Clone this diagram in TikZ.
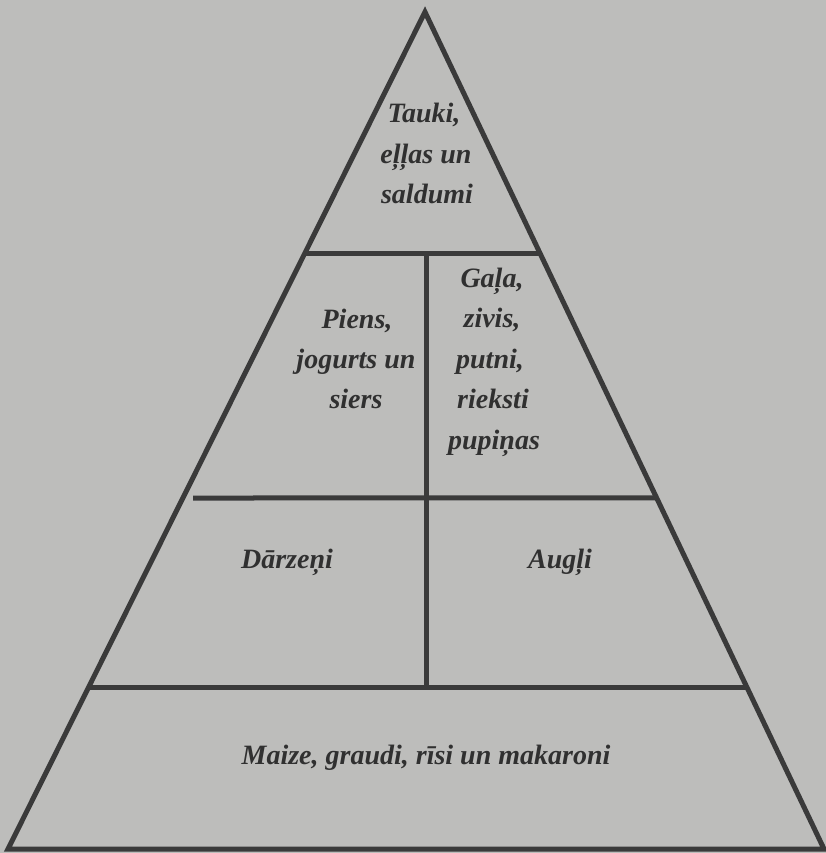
\documentclass[tikz,border=0pt]{standalone}
\usepackage{fontspec}
\setmainfont{Liberation Serif}
\usetikzlibrary{calc}
\definecolor{paper}{RGB}{189,189,187}
\definecolor{ink}{RGB}{58,58,58}
\definecolor{txt}{RGB}{48,48,48}
\tikzset{
  frame/.style={draw=ink, line width=5pt, line join=miter},
  divider/.style={draw=ink, line width=5pt},
  label/.style={anchor=base, inner sep=0pt, text=txt,
    font=\fontsize{28}{34}\selectfont\bfseries\itshape}
}
\begin{document}
\begin{tikzpicture}[x=1pt, y=-1pt]
\fill[paper] (0,0) rectangle (826,853);
\useasboundingbox (0,0) rectangle (826,853);
% corners
\coordinate (apex) at (425,12);
\coordinate (bl) at (8,849);
\coordinate (br) at (824,849);
% side points
\coordinate (l1) at ($(apex)!0.288!(bl)$);
\coordinate (r1) at ($(apex)!0.288!(br)$);
\coordinate (r2) at ($(apex)!0.5806!(br)$);
\coordinate (l2) at (193,498);
\coordinate (l3) at ($(apex)!0.8076!(bl)$);
\coordinate (r3) at ($(apex)!0.8076!(br)$);
\coordinate (vtop) at (426,253);
\coordinate (vbot) at (426,688);
% outline
\draw[frame] (apex) -- (bl) -- (br) -- cycle;
% dividers
\draw[divider] (l1) -- (r1);
\draw[divider] (l2) -- (r2);
\draw[divider] (l3) -- (r3);
\draw[divider] (vtop) -- (vbot);
% top
\node[label] (t1) at (424,123) {Tauki,};
\node[label] (t2) at (426,164) {eļļas un};
\node[label] (t3) at (427,204) {saldumi};
% left column
\node[label] (p1) at (357,328) {Piens,};
\node[label] (p2) at (356,368) {jogurts un};
\node[label] (p3) at (356,408) {siers};
% right column
\node[label] (g1) at (492,287) {Gaļa,};
\node[label] (g2) at (492,327.5) {zivis,};
\node[label] (g3) at (490,368) {putni,};
\node[label] (g4) at (493,408.5) {rieksti};
\node[label] (g5) at (494,449) {pupiņas};
% vegetables / fruit
\node[label] (d1) at (287,568) {Dārzeņi};
\node[label] (a1) at (560,568) {Augļi};
% base
\node[label] (m1) at (426,764) {Maize, graudi, rīsi un makaroni};
\end{tikzpicture}
\end{document}
